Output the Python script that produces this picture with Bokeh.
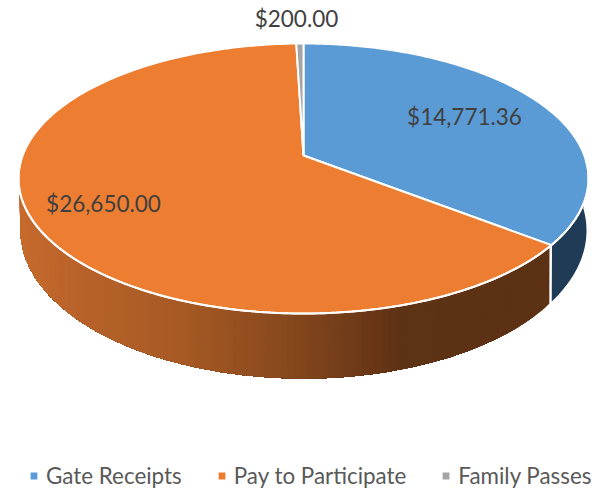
import numpy as np
from bokeh.plotting import figure
from bokeh.embed import file_html
from bokeh.resources import INLINE
from bokeh.core.properties import value
from bokeh.models import Legend, LegendItem

categories = ["Gate Receipts", "Pay to Participate", "Family Passes"]
amounts = [14771.36, 26650.00, 200.00]
labels = ["$14,771.36", "$26,650.00", "$200.00"]
top_colors = ["#5B9BD5", "#ED7D31", "#A5A5A5"]

W, H = 594, 489
p = figure(width=W, height=H, x_range=(0, W), y_range=(H, 0),
           toolbar_location=None, output_backend="svg", min_border=0,
           background_fill_color="white", outline_line_color=None)
p.axis.visible = False
p.grid.visible = False

CX = 303.0

def disc(theta, top, apex, bottom, rx):
    # perspective view of a circle: theta clockwise from 12 o'clock
    c = (2 * apex - top - bottom) / (bottom - top)
    a = bottom * (1 + c) - apex
    k = rx * np.sqrt(1 - c * c)
    y = -np.cos(theta)
    d = 1 + c * y
    return CX + k * np.sin(theta) / d, (a * y + apex) / d

def top_pt(t):
    return disc(t, 43.0, 155.0, 313.0, 285.0)

def bot_pt(t):
    return disc(t, 82.0, 203.0, 378.0, 283.0)

total = sum(amounts)
edges = np.concatenate([[0.0], np.cumsum(amounts)]) / total * 2 * np.pi

# wall shade at screen x positions
shade_x = [20, 80, 180, 280, 380, 400, 552]
shade_rgb = [(198, 107, 45), (184, 98, 42), (168, 90, 36), (138, 74, 30),
             (103, 54, 22), (94, 50, 20), (92, 49, 20)]

def shade(x):
    rgb = [np.interp(x, shade_x, [s[i] for s in shade_rgb]) for i in range(3)]
    return "#%02x%02x%02x" % tuple(int(round(v)) for v in rgb)

wall_start, wall_end = np.radians(92.0), np.radians(266.0)
blue_end = edges[1]

# blue wall
t = np.linspace(wall_start, blue_end - 0.004, 40)
x0, y0 = top_pt(t); x1, y1 = bot_pt(t)
p.patch(np.r_[x0, x1[::-1]], np.r_[y0, y1[::-1]], fill_color="#1F3B55", line_color=None)

# orange wall: overlapping strips painted right to left, so no seams show
ts = np.linspace(blue_end + 0.012, wall_end, 120)
xo, yo, co = [], [], []
for i in range(len(ts) - 1):
    t = np.linspace(ts[i], wall_end, max(3, 120 - i))
    x0, y0 = top_pt(t); x1, y1 = bot_pt(t)
    xo.append(list(x0) + list(x1[::-1])); yo.append(list(y0) + list(y1[::-1]))
    co.append(shade(float(top_pt(np.array([ts[i]]))[0][0])))
p.patches(xo, yo, fill_color=co, line_color=None)

# top face
renderers = []
for i, col in enumerate(top_colors):
    t = np.linspace(edges[i], edges[i + 1], 200)
    x, y = top_pt(t)
    r = p.patch(np.r_[CX, x], np.r_[155.0, y], fill_color=col,
                line_color="white", line_width=2)
    renderers.append(r)

# rim highlight between top face and wall
t = np.linspace(np.radians(92.0), np.radians(268.0), 240)
x, y = top_pt(t)
p.line(x, y, line_color="white", line_width=2)

# data labels
label_x = [464, 103, 296]
label_y = [116, 203, 18]
p.text(x=label_x, y=label_y, text=labels, text_font=value("Lato"),
       text_font_size="22.5px", text_color="#404040", text_align="center",
       text_baseline="middle")

legend = Legend(items=[LegendItem(label=c, renderers=[r]) for c, r in zip(categories, renderers)],
                orientation="horizontal", location=(28, 0), border_line_color=None,
                background_fill_alpha=0, glyph_width=11, glyph_height=11, label_standoff=7,
                spacing=34, padding=0, margin=0, label_text_font="Lato",
                label_text_font_size="22.4px", label_text_color="#595959")
p.add_layout(legend, "center")

open("out.html", "w").write(file_html(p, INLINE))
